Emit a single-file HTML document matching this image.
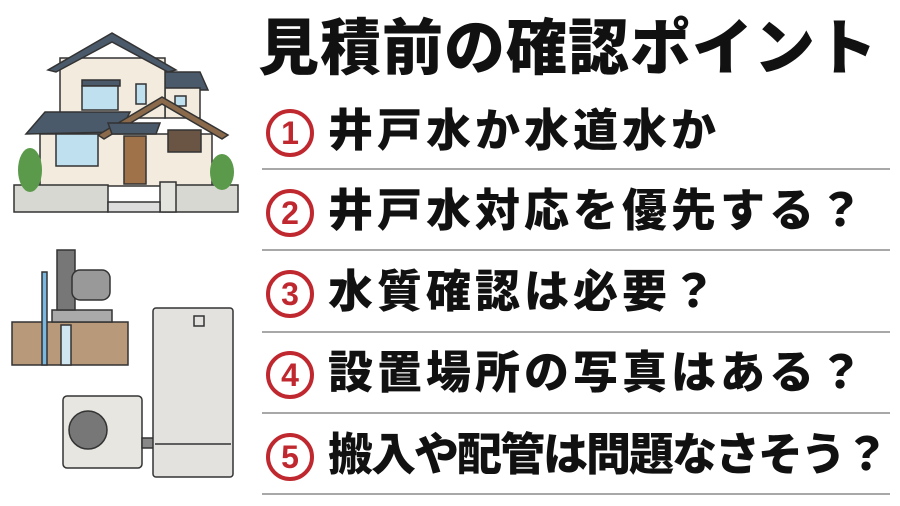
<!DOCTYPE html>
<html><head><meta charset="utf-8"><style>
body{margin:0;width:900px;height:506px;background:#fff;overflow:hidden;position:relative;font-family:"Liberation Sans","Noto Sans CJK JP",sans-serif;}
.t{position:absolute;left:258px;top:8px;font-size:61px;font-weight:900;color:#111;letter-spacing:1px;white-space:nowrap;line-height:80px}
.it{position:absolute;left:266px;height:60px;white-space:nowrap;}
.c{position:absolute;left:0;top:6px;width:40px;height:40px;border:4px solid #c0282f;border-radius:50%;color:#c0282f;font-weight:900;font-size:32px;line-height:40px;text-align:center}
.x{position:absolute;left:62px;top:0;font-size:45px;font-weight:900;color:#111;line-height:56px;letter-spacing:4px}
.ln{position:absolute;left:262px;width:628px;height:2px;background:#a8a8a8}
</style></head><body>
<svg width="250" height="506" style="position:absolute;left:0;top:0" viewBox="0 0 250 506">
<g stroke="#333" stroke-width="1.5">
<polygon points="165,72 200,72 208,90 165,90" fill="#4a5a6a"/>
<rect x="165" y="88" width="35" height="30" fill="#f2ebde"/>
<rect x="175" y="96" width="11" height="10" fill="#bfe0ee"/>
<rect x="60" y="58" width="105" height="60" fill="#f2ebde"/>
<polygon points="112,33 48,70 56,72 112,42 168,72 176,70" fill="#4a5a6a"/>
<rect x="82" y="80" width="38" height="6" fill="#4a5a6a"/>
<rect x="82" y="86" width="36" height="24" fill="#bfe0ee"/>
<rect x="136" y="84" width="10" height="20" fill="#bfe0ee"/>
<polygon points="45,112 130,112 120,132 26,134" fill="#4a5a6a"/>
<rect x="40" y="134" width="172" height="52" fill="#f2ebde"/>
<polygon points="162,97 98,135 104,139 162,104 222,139 228,135" fill="#8a6a4a"/>
<polygon points="108,123 160,123 156,134 112,134" fill="#4a5a6a"/>
<rect x="124" y="136" width="22" height="48" fill="#a0724a"/>
<rect x="56" y="134" width="42" height="32" fill="#bfe0ee"/>
<rect x="168" y="130" width="33" height="22" fill="#6a5444"/>
<rect x="14" y="185" width="94" height="27" fill="#d8d8d2"/>
<rect x="162" y="185" width="76" height="27" fill="#d8d8d2"/>
<rect x="160" y="182" width="16" height="30" fill="#e4e4de"/>
<rect x="108" y="202" width="52" height="10" fill="#ddd"/>
</g>
<ellipse cx="30" cy="170" rx="12" ry="22" fill="#5a9a4a"/>
<ellipse cx="222" cy="172" rx="12" ry="18" fill="#5a9a4a"/>
<g stroke="#333" stroke-width="1.5">
<rect x="12" y="322" width="116" height="43" fill="#b89a7a"/>
<rect x="42" y="272" width="5" height="93" fill="#7ab8e0"/>
<rect x="61" y="325" width="10" height="40" fill="#cfe6f0"/>
<rect x="52" y="310" width="60" height="12" fill="#aaa"/>
<rect x="57" y="250" width="18" height="60" fill="#777"/>
<rect x="72" y="270" width="38" height="30" rx="8" fill="#999"/>
</g>
<g stroke="#333" stroke-width="1.5">
<rect x="63" y="396" width="79" height="72" rx="4" fill="#e8e6e0"/>
<circle cx="88" cy="430" r="19" fill="#777"/>
<rect x="142" y="438" width="12" height="10" fill="#888"/>
<rect x="153" y="308" width="80" height="169" rx="3" fill="#e4e2de"/>
<line x1="155" y1="444" x2="231" y2="444"/>
<rect x="194" y="316" width="10" height="10" fill="none"/>
</g>
</svg>
<div class="t">見積前の確認ポイント</div>
<div class="it" style="top:103px"><div class="c">1</div><div class="x">井戸水か水道水か</div></div>
<div class="ln" style="top:168px"></div>
<div class="it" style="top:183px"><div class="c">2</div><div class="x">井戸水対応を優先する？</div></div>
<div class="ln" style="top:249px"></div>
<div class="it" style="top:264px"><div class="c">3</div><div class="x">水質確認は必要？</div></div>
<div class="ln" style="top:331px"></div>
<div class="it" style="top:345px"><div class="c">4</div><div class="x">設置場所の写真はある？</div></div>
<div class="ln" style="top:412px"></div>
<div class="it" style="top:427px"><div class="c">5</div><div class="x" style="letter-spacing:-2px">搬入や配管は問題なさそう？</div></div>
<div class="ln" style="top:493px"></div>
</body></html>
